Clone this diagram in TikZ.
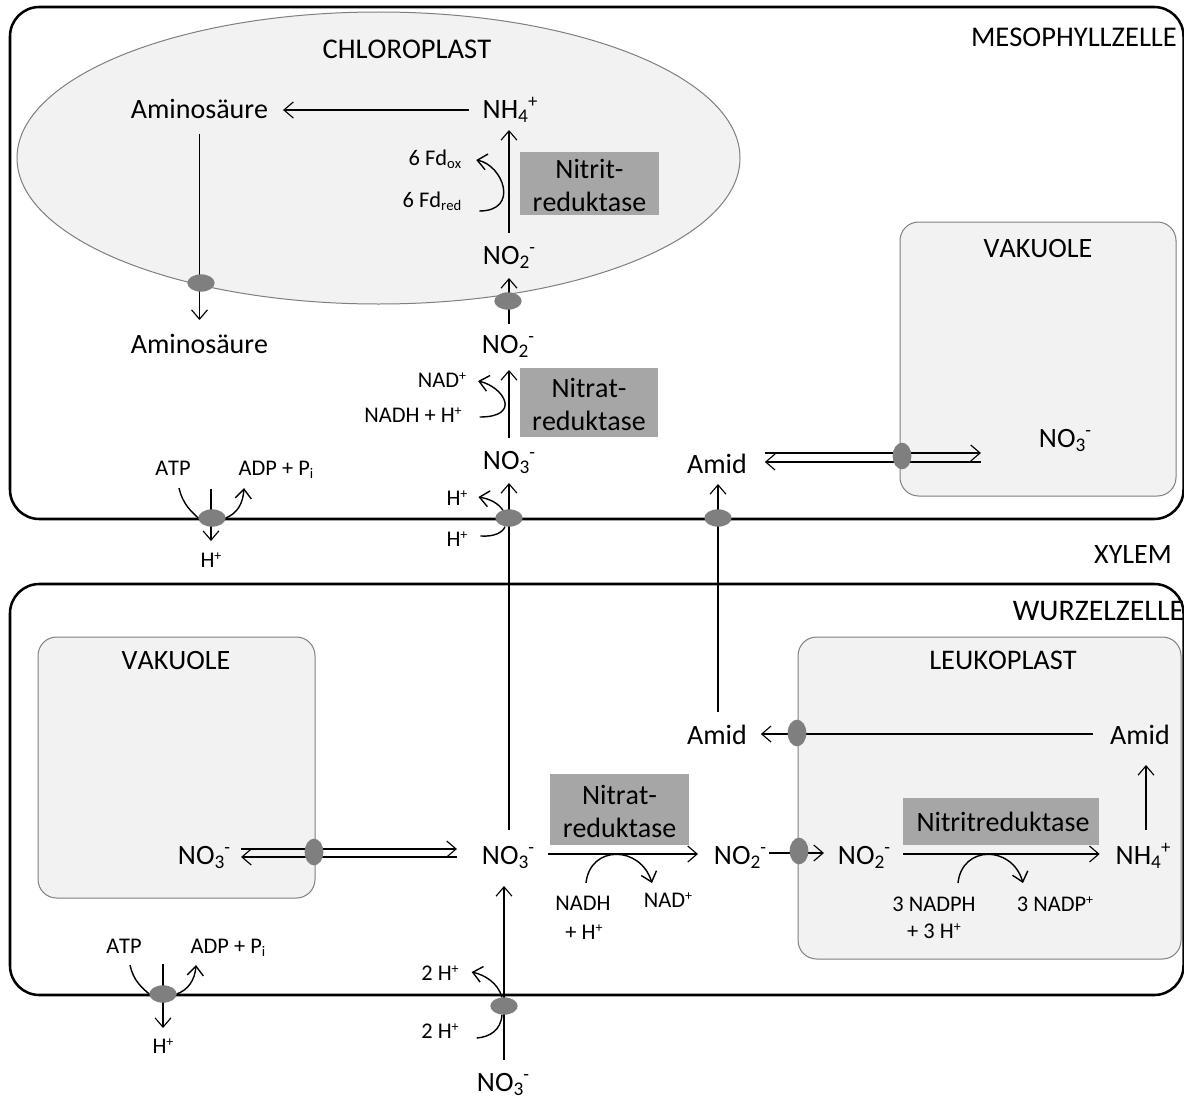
\documentclass[tikz,border=0pt]{standalone}
\usepackage{fontspec}
\setmainfont[Kerning=Off]{Carlito}
\usetikzlibrary{arrows.meta,shapes.geometric,calc}
\pgfdeclarelayer{bg}
\pgfdeclarelayer{top}
\pgfsetlayers{bg,main,top}
\definecolor{orgfill}{HTML}{F2F2F2}
\definecolor{orgline}{HTML}{7F7F7F}
\definecolor{enzfill}{HTML}{A6A6A6}
% sub- and superscripts, large and small text
\newcommand\bsb[1]{\raisebox{-3.6pt}{\fontsize{14.5}{15}\selectfont #1}}
\newcommand\bsp[1]{\raisebox{8pt}{\fontsize{14}{15}\selectfont #1}}
\newcommand\ssb[1]{\raisebox{-2.6pt}{\fontsize{11}{12}\selectfont #1}}
\newcommand\ssp[1]{\raisebox{5pt}{\fontsize{10.5}{12}\selectfont #1}}
\tikzset{
  bigl/.style={anchor=base,inner sep=0pt,outer sep=0pt,text height=15pt,text depth=4.5pt,font=\fontsize{21}{25}\selectfont},
  smll/.style={anchor=base,inner sep=0pt,outer sep=0pt,text height=12pt,text depth=3pt,font=\fontsize{16.8}{20}\selectfont},
  enz/.style={fill=enzfill,inner sep=0pt,outer sep=0pt,align=center,font=\fontsize{21}{24.75}\selectfont},
  frame/.style={draw=black,fill=white,line width=1.9pt,rounded corners=22pt},
  organelle/.style={draw=orgline,fill=orgfill,line width=.75pt,rounded corners=14pt},
  trans/.style={ellipse,fill=orgline,inner sep=0pt,outer sep=0pt},
  transh/.style={trans,minimum width=20.5pt,minimum height=13pt},
  transv/.style={trans,minimum width=14pt,minimum height=20pt},
  con/.style={draw=black,line width=.85pt},
  arr/.style={con,-{Straight Barb[length=7pt,width=12pt]}},
  ccon/.style={con,line width=1.05pt},
  carr/.style={arr,line width=1.05pt},
}
\begin{document}
\begin{tikzpicture}[x=0.75pt,y=-0.75pt]
\useasboundingbox (0,0) rectangle (1184,1099);
\begin{pgfonlayer}{bg}
  \path[frame] (10,7) rectangle (1183.5,519);
  \path[frame] (10,584) rectangle (1183.5,995);
  \node[ellipse,draw=orgline,fill=orgfill,line width=.75pt,inner sep=0pt,minimum width=542.25pt,minimum height=219pt] (chl) at (378.5,158) {};
  \path[organelle] (900,222) rectangle (1176,496);
  \path[organelle] (38,637) rectangle (315,898);
  \path[organelle] (798,637) rectangle (1181,959);
\end{pgfonlayer}
% labels
\node[bigl,font=\fontsize{21.4}{25}\selectfont] (chlt) at (407,59) {CHLOROPLAST};
\node[bigl,font=\fontsize{21.4}{25}\selectfont] (meso) at (1074,47) {MESOPHYLLZELLE};
\node[bigl] (xyl) at (1133,563) {XYLEM};
\node[bigl,font=\fontsize{22.4}{25}\selectfont] (wurz) at (1098.5,620) {WURZELZELLE};
\node[bigl] (vakU) at (1038,257) {VAKUOLE};
\node[bigl] (vakL) at (176,669) {VAKUOLE};
\node[bigl,font=\fontsize{21.3}{25}\selectfont] (leuk) at (1003,669) {LEUKOPLAST};
\node[bigl] (am1) at (199.5,118) {Aminosäure};
\node[bigl] (am2) at (199.5,353) {Aminosäure};
\node[bigl] (nh4a) at (510,118) {NH\bsb{4}\bsp{+}};
\node[bigl] (no2a) at (509,264) {NO\bsb{2}\bsp{-}};
\node[bigl] (no2b) at (508,353) {NO\bsb{2}\bsp{-}};
\node[bigl] (no3u) at (509,469) {NO\bsb{3}\bsp{-}};
\node[bigl] (amU) at (717,473) {Amid};
\node[bigl] (no3v) at (1065,447) {NO\bsb{3}\bsp{-}};
\node[bigl] (amL) at (717,744) {Amid};
\node[bigl] (amR) at (1140,744) {Amid};
\node[bigl] (no3w) at (204,864) {NO\bsb{3}\bsp{-}};
\node[bigl] (no3m) at (508,864) {NO\bsb{3}\bsp{-}};
\node[bigl] (no2c) at (740,864) {NO\bsb{2}\bsp{-}};
\node[bigl] (no2d) at (864,864) {NO\bsb{2}\bsp{-}};
\node[bigl] (nh4b) at (1143,864) {NH\bsb{4}\bsp{+}};
\node[bigl] (no3b) at (503,1091) {NO\bsb{3}\bsp{-}};
\node[smll] (fdo) at (435,165) {6 Fd\ssb{ox}};
\node[smll] (fdr) at (432,207) {6 Fd\ssb{red}};
\node[smll] (nad) at (442,387) {NAD\ssp{+}};
\node[smll] (nadh) at (413,422) {NADH + H\ssp{+}};
\node[smll] (atpU) at (173,475) {ATP};
\node[smll] (adpU) at (276,475) {ADP + P\ssb{i}};
\node[smll] (hA) at (211,567) {H\ssp{+}};
\node[smll] (hu) at (457,505) {H\ssp{+}};
\node[smll] (hl) at (457,546) {H\ssp{+}};
\node[smll] (atpL) at (124,953) {ATP};
\node[smll] (adpL) at (228,953) {ADP + P\ssb{i}};
\node[smll] (hC) at (163,1053) {H\ssp{+}};
\node[smll] (h2u) at (440,980) {2 H\ssp{+}};
\node[smll] (h2l) at (440,1038) {2 H\ssp{+}};
\node[smll] (nadh2) at (583,910) {NADH};
\node[smll] (plh) at (584,939) {+ H\ssp{+}};
\node[smll] (nad2) at (668,907) {NAD\ssp{+}};
\node[smll] (npn) at (934,911) {3 NADPH};
\node[smll] (pl3) at (934,938) {+ 3 H\ssp{+}};
\node[smll] (npp) at (1055,911) {3 NADP\ssp{+}};
% enzymes
\node[enz,minimum width=104.25pt,minimum height=47.25pt] (e1) at (589.5,183.5) {\rule{0pt}{17.5pt}Nitrit-\\reduktase};
\node[enz,minimum width=103.5pt,minimum height=51.75pt] (e2) at (589,402.5) {\rule{0pt}{17.5pt}Nitrat-\\reduktase};
\node[enz,minimum width=104.25pt,minimum height=53.25pt] (e3) at (619.5,809.5) {\rule{0pt}{17.5pt}Nitrat-\\reduktase};
\node[enz,minimum width=147pt,minimum height=35.25pt] (e4) at (1001,821.5) {\hspace*{3pt}Nitritreduktase};
% transporters
\begin{pgfonlayer}{top}
  \node[transh] (tAm) at (201,283) {};
  \node[transh] (tNi) at (508,301) {};
  \node[transh] (tA) at (212,518) {};
  \node[transh] (tB) at (509,518) {};
  \node[transh] (tAd) at (718,518) {};
  \node[transv] (tVu) at (902,456) {};
  \node[transv] (tVl) at (314,852) {};
  \node[transv] (tLa) at (797,733) {};
  \node[transv] (tLn) at (799,851) {};
  \node[transh] (tC) at (163,994) {};
  \node[transh] (tF) at (504,1006) {};
\end{pgfonlayer}
% connectors
\draw[arr] ($(nh4a.west)+(-14,-1)$) -- ($(am1.east)+(15,-1)$);
\draw[arr] ($(am1.south)+(0,10)$) -- ($(am2.north)+(0,-13)$);
\draw[arr] ($(no2a.north)+(0,-11)$) -- ($(nh4a.south)+(-1,6)$);
\draw[arr] ($(no2b.north)+(1,-9)$) -- ($(no2a.south)+(0,8)$);
\draw[arr] ($(no3u.north)+(0,-11)$) -- ($(no2b.south)+(1,11)$);
\draw[arr] ($(no3m.north)+(1,-14)$) -- ($(no3u.south)+(0,8)$);
\draw[arr] ($(amL.north)+(1,-12)$) -- ($(amU.south)+(1,5)$);
\draw[arr] ($(amU.east)+(18,-13)$) -- ($(no3v.west)+(-58,13)$);
\draw[arr] ($(no3v.west)+(-58,22)$) -- ($(amU.east)+(18,-4)$);
\draw[arr] ($(no3w.east)+(11,-8)$) -- ($(no3m.west)+(-25,-8)$);
\draw[arr] ($(no3m.west)+(-25,0)$) -- ($(no3w.east)+(11,0)$);
\draw[arr] ($(amR.west)+(-17,-3)$) -- ($(amL.east)+(14,-3)$);
\draw[arr] ($(nh4b.north)+(3,-14)$) -- ($(amR.south)+(6,15)$);
\draw[arr] ($(no2d.east)+(13,-3)$) -- ($(nh4b.west)+(-16,-3)$);
\draw[arr] ($(no2c.east)+(3,-4)$) -- ($(no2d.west)+(-14,-4)$);
\draw[arr] ($(no3m.east)+(14,-3)$) -- ($(no2c.west)+(-16,-3)$);
\draw[arr] ($(no3b.north)+(1,-11)$) -- ($(no3m.south)+(-4,16)$);
\draw[arr] ($(tA.north)+(-1,-20)$) -- ($(hA.north)+(0,-10)$);
\draw[arr] ($(tC.north)+(0,-21)$) -- ($(hC.north)+(0,-9)$);
% curved connectors
\draw[carr] ($(fdr.east)+(18,10)$) .. controls (520,211) and (503,165) .. ($(fdo.east)+(15,1)$);
\draw[carr] ($(nadh.east)+(18,1)$) .. controls (522,417) and (504,387) .. ($(nad.east)+(12,0)$);
\draw[ccon] ($(atpU.south)+(6,9)$) .. controls (183,505) and (192,512) .. (tA.west);
\draw[carr] (tA.east) .. controls (238,513) and (243,503) .. ($(adpU.south)+(-32,9)$);
\draw[carr] ($(tB.north)+(-6,1)$) .. controls (498,503) and (490,499) .. ($(hu.east)+(11,-2)$);
\draw[ccon] ($(hl.east)+(13,-4)$) .. controls (495,537) and (503,532) .. ($(tB.south)+(-4,0)$);
\draw[carr] ($(tF.north)+(-2,0)$) .. controls (498,983) and (485,975) .. ($(h2u.east)+(13,-2)$);
\draw[ccon] ($(h2l.east)+(18,6)$) .. controls (490,1037) and (501,1030) .. ($(tF.south)+(-2,0)$);
\draw[ccon] ($(atpL.south)+(6,8)$) .. controls (133,980) and (142,988) .. (tC.west);
\draw[carr] (tC.east) .. controls (188,990) and (195,980) .. ($(adpL.south)+(-32,8)$);
\draw[carr] ($(nadh2.north)+(3,-11)$) .. controls (590,845) and (640,845) .. ($(nad2.north)+(-16,-8)$);
\draw[carr] ($(npn.north)+(24,-12)$) .. controls (962,845) and (1012,845) .. ($(npp.north)+(-32,-12)$);
\end{tikzpicture}
\end{document}
